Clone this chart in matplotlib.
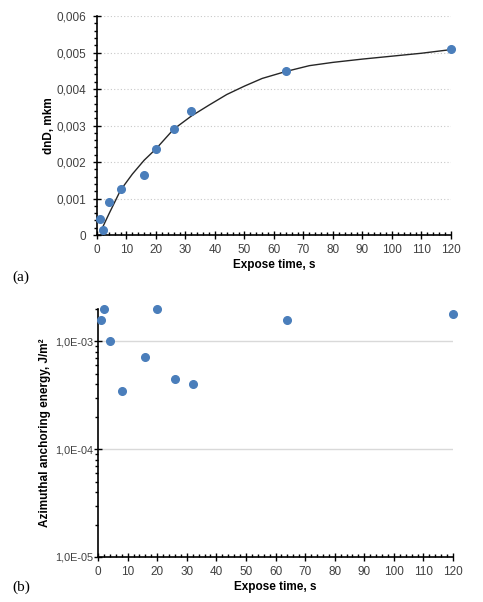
import matplotlib
matplotlib.use("Agg")
import matplotlib.pyplot as plt
from matplotlib.ticker import MultipleLocator, FuncFormatter, LogLocator, NullFormatter

plt.rcParams['font.family'] = ['Liberation Sans', 'DejaVu Sans']

# (a) dnD vs expose time
time_s = [1, 2, 4, 8, 16, 20, 26, 32, 64, 120]
dnd = [0.00045, 0.00013, 0.0009, 0.00127, 0.00165, 0.00237, 0.0029, 0.0034, 0.0045, 0.0051]

# trend curve
curve_x = [1.5, 4, 8, 12, 16, 20, 26, 32, 38, 44, 50, 56, 64, 72, 80, 90, 100, 110, 120]
curve_y = [0.00014, 0.00057, 0.00123, 0.00167, 0.00205, 0.00236, 0.0029, 0.00326,
           0.00356, 0.00385, 0.00408, 0.00429, 0.00448, 0.00464, 0.00473,
           0.00482, 0.0049, 0.00498, 0.00508]

# (b) azimuthal anchoring energy
energy = [1.59e-3, 2.01e-3, 1.0e-3, 3.48e-4, 7.2e-4, 2.0e-3, 4.5e-4, 4.07e-4, 1.59e-3, 1.79e-3]

blue = '#4a7ebb'
fs = 8.5

fig = plt.figure(figsize=(4.83, 6.02), dpi=100)

ax1 = fig.add_axes([0.2008, 0.6096, 0.7329, 0.3638])
ax1.plot(curve_x, curve_y, color='#262626', lw=1.0, zorder=2)
ax1.plot(time_s, dnd, 'o', color=blue, ms=5.5, zorder=3, clip_on=False)
ax1.set_xlim(0, 120)
ax1.set_ylim(0, 0.006)
ax1.xaxis.set_major_locator(MultipleLocator(10))
ax1.xaxis.set_minor_locator(MultipleLocator(2))
ax1.yaxis.set_major_locator(MultipleLocator(0.001))
ax1.yaxis.set_minor_locator(MultipleLocator(0.0002))
ax1.yaxis.set_major_formatter(FuncFormatter(
    lambda v, p: '0' if abs(v) < 1e-9 else ('%.3f' % v).replace('.', ',')))
for yv in [0.001, 0.002, 0.003, 0.004, 0.005, 0.006]:
    ax1.axhline(yv, color='#c8c8c8', lw=0.8, ls=(0, (1, 2)), zorder=1)
ax1.set_xlabel('Expose time, s', fontsize=fs, fontweight='bold', labelpad=2)
ax1.set_ylabel('dnD, mkm', fontsize=fs, fontweight='bold', va='center')
ax1.yaxis.set_label_coords(-0.136, 0.5)

ax2 = fig.add_axes([0.2029, 0.0748, 0.7350, 0.4119])
ax2.plot(time_s, energy, 'o', color=blue, ms=5.5, zorder=3, clip_on=False)
ax2.set_yscale('log')
ax2.set_xlim(0, 120)
ax2.set_ylim(1e-5, 2.0e-3)
ax2.xaxis.set_major_locator(MultipleLocator(10))
ax2.xaxis.set_minor_locator(MultipleLocator(2))
ax2.yaxis.set_major_locator(LogLocator(base=10, numticks=10))
ax2.yaxis.set_minor_locator(LogLocator(base=10, subs=range(2, 10), numticks=20))
ax2.yaxis.set_minor_formatter(NullFormatter())
ax2.yaxis.set_major_formatter(FuncFormatter(
    lambda v, p: ('%.1E' % v).replace('.', ',')))
for yv in [1e-4, 1e-3]:
    ax2.axhline(yv, color='#d9d9d9', lw=1.0, zorder=1)
ax2.set_xlabel('Expose time, s', fontsize=fs, fontweight='bold', labelpad=2)
ax2.set_ylabel('Azimuthal anchoring energy, J/m²', fontsize=fs,
               fontweight='bold', va='center')
ax2.yaxis.set_label_coords(-0.148, 0.5)

for ax in (ax1, ax2):
    for s in ('top', 'right'):
        ax.spines[s].set_visible(False)
    for s in ('left', 'bottom'):
        ax.spines[s].set_linewidth(1.2)
        ax.spines[s].set_color('black')
    ax.tick_params(which='major', direction='inout', length=6, width=1.0,
                   labelsize=fs, colors='black', labelcolor='#404040')
    ax.tick_params(which='minor', direction='out', length=2.5, width=1.0)
    ax.tick_params(axis='x', which='minor', direction='in')
ax1.tick_params(axis='y', which='major', pad=5)
ax2.tick_params(axis='y', which='major', pad=0.5, labelsize=7.8)

fig.text(0.025, 0.540, '(a)', family=['Liberation Serif', 'DejaVu Serif'],
         fontsize=11, va='center')
fig.text(0.025, 0.025, '(b)', family=['Liberation Serif', 'DejaVu Serif'],
         fontsize=11, va='center')

fig.savefig('out.png', dpi=100)
